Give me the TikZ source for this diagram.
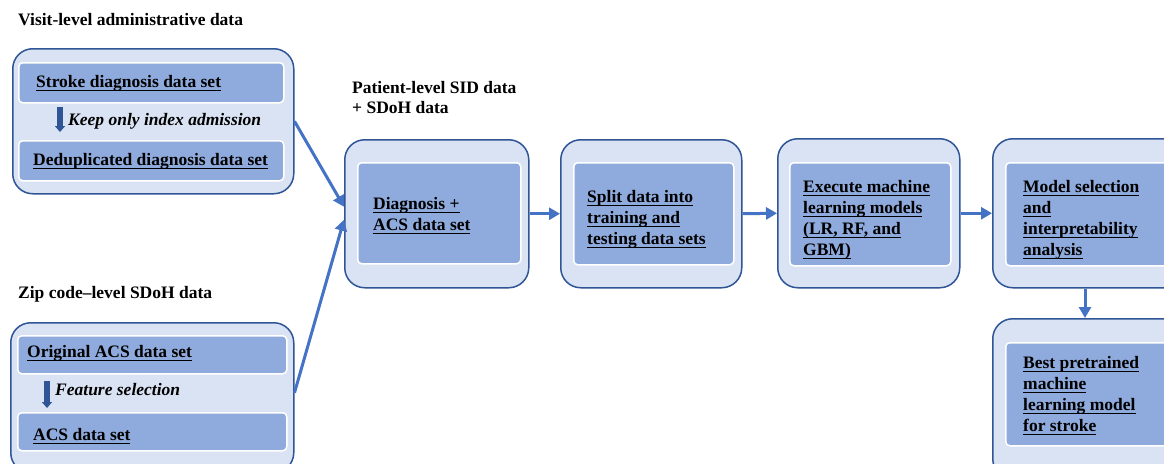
\documentclass[tikz,border=0pt]{standalone}
\usepackage{fontspec}
\setmainfont{Liberation Serif}
\newcommand\uline[1]{\setbox0\hbox{#1}\rlap{\rule[-3.6pt]{\wd0}{1.1pt}}\box0}
\usetikzlibrary{arrows.meta}
\definecolor{outerfill}{RGB}{218,227,243}
\definecolor{innerfill}{RGB}{143,170,220}
\definecolor{bordc}{RGB}{47,85,151}
\definecolor{arrowc}{RGB}{68,114,196}
\begin{document}
\begin{tikzpicture}[x=1pt,y=-1pt,
  outer/.style={draw=bordc, line width=1.5pt, fill=outerfill, rounded corners=20pt, inner sep=0pt, anchor=north west},
  inner/.style={draw=white, line width=1.5pt, fill=innerfill, rounded corners=4pt, inner sep=0pt, anchor=north west},
  lbl/.style={font=\fontsize{17.5}{21}\selectfont\bfseries, inner sep=0pt, anchor=north west, align=left},
  ttl/.style={font=\fontsize{17.5}{20.5}\selectfont\bfseries, inner sep=0pt, anchor=north west, align=left},
  conn/.style={draw=arrowc, line width=3pt, -{Triangle[length=11pt,width=12pt]}},
  blk/.style={draw=bordc, line width=6pt, -{Triangle[length=6pt,width=10pt]}}]
\useasboundingbox (0,0) rectangle (1164,463);
\fill[white] (0,0) rectangle (1164,463);
\begin{scope}
\clip (0,0) rectangle (1164,463);
% titles
\node[ttl] (t1) at (18,13) {Visit-level administrative data};
\node[ttl] (t2) at (18,286) {Zip code--level SDoH data};
\node[ttl] (t3) at (352,81) {Patient-level SID data\\+ SDoH data};
% left group 1
\node[outer, minimum width=281pt, minimum height=145pt] (o1) at (12,48) {};
\node[inner, minimum width=265pt, minimum height=40pt] (s1) at (18,62) {};
\node[inner, minimum width=265pt, minimum height=40pt] (s2) at (18,140) {};
\node[lbl] at (36,75) {\uline{Stroke diagnosis data set}};
\node[lbl] at (33,153) {\uline{Deduplicated diagnosis data set}};
\coordinate (k1) at (60,0);
\draw[blk] ([yshift=-3pt]k1 |- s1.south) -- ([yshift=8pt]k1 |- s2.north);
\node[lbl] (kp) at (68,113) {\itshape Keep only index admission};
% left group 2
\node[outer, minimum width=283pt, minimum height=150pt] (o2) at (10,322) {};
\node[inner, minimum width=269pt, minimum height=38pt] (u1) at (17,335) {};
\node[inner, minimum width=269pt, minimum height=38pt] (u2) at (17,412) {};
\node[lbl] at (27,345) {\uline{Original ACS data set}};
\node[lbl] at (33,428) {\uline{ACS data set}};
\coordinate (k2) at (47,0);
\draw[blk] ([yshift=-6pt]k2 |- u1.south) -- ([yshift=4pt]k2 |- u2.north);
\node[lbl] (fs) at (55,383) {\itshape Feature selection};
% main row
\node[outer, minimum width=184pt, minimum height=148pt] (A) at (344,139) {};
\node[inner, minimum width=163pt, minimum height=101pt] (Ai) at (357,162) {};
\node[lbl] at (373,197) {\uline{Diagnosis +}\\\uline{ACS data set}};
\node[outer, minimum width=181pt, minimum height=148pt] (B) at (560,139) {};
\node[inner, minimum width=160pt, minimum height=102pt] (Bi) at (573,162) {};
\node[lbl] at (587,190) {\uline{Split data into}\\\uline{training and}\\\uline{testing data sets}};
\node[outer, minimum width=182pt, minimum height=149pt] (C) at (777,138) {};
\node[inner, minimum width=161pt, minimum height=103pt] (Ci) at (789,162) {};
\node[lbl] at (803,180) {\uline{Execute machine}\\\uline{learning models}\\\uline{(LR, RF, and}\\\uline{GBM)}};
\node[outer, minimum width=200pt, minimum height=149pt] (D) at (992,138) {};
\node[inner, minimum width=190pt, minimum height=103pt] (Di) at (1005,162) {};
\node[lbl] at (1023,180) {\uline{Model selection}\\\uline{and}\\\uline{interpretability}\\\uline{analysis}};
\node[outer, minimum width=200pt, minimum height=160pt] (E) at (992,318) {};
\node[inner, minimum width=190pt, minimum height=103pt] (Ei) at (1005,342) {};
\node[lbl] at (1023,356) {\uline{Best pretrained}\\\uline{machine}\\\uline{learning model}\\\uline{for stroke}};
% connectors
\draw[conn] (o1.east) -- ([yshift=7pt]A.west);
\draw[conn] ([yshift=5pt]o2.east) -- ([yshift=-6pt]A.west);
\draw[conn] (A.east) -- (B.west);
\draw[conn] (B.east) -- (C.west);
\draw[conn] (C.east) -- (D.west);
\coordinate (k3) at (1085,0);
\draw[conn] (k3 |- D.south) -- (k3 |- E.north);
\end{scope}
\end{tikzpicture}
\end{document}
